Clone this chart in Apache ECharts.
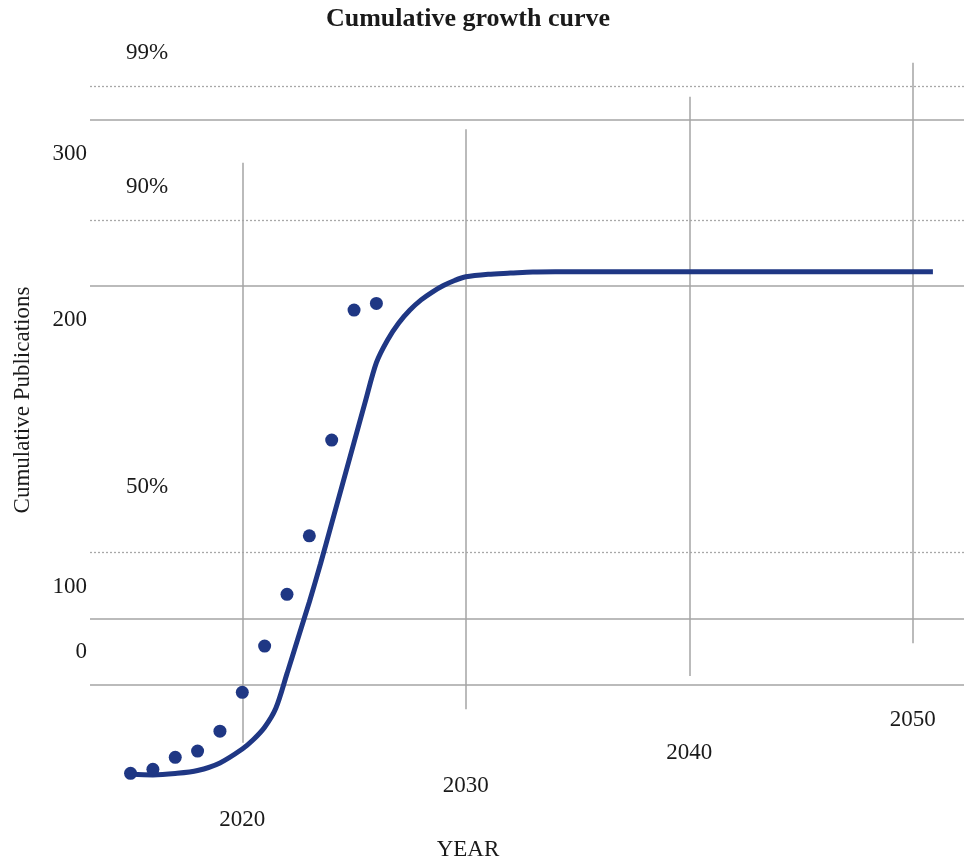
<!DOCTYPE html>
<html lang="en">

<head>
    <meta charset="UTF-8">
    <meta name="viewport" content="width=device-width, initial-scale=1.0">
    <title>Cumulative growth curve</title>
    <style>
        * {
            padding: 0;
            margin: 0;
        }
    </style>
</head>

<body>
    <div id="main" style="width: 964px; height: 862px;"></div>
    <script src="https://cdn.jsdelivr.net/npm/echarts@6/dist/echarts.min.js"></script>
    <script>
        let mychart = echarts.init(document.getElementById('main'))

        // observed publications per year
        const years = [2015, 2016, 2017, 2018, 2019, 2020, 2021, 2022, 2023, 2024, 2025, 2026]
        const publications = [2.9, 4.6, 9.8, 12.5, 21.1, 37.9, 57.9, 80.3, 105.6, 147.0, 203.2, 206.1]

        // fitted growth curve
        const fitYears = [2015, 2016, 2017, 2018, 2019, 2020, 2020.5, 2021, 2021.5, 2022, 2022.5, 2023, 2023.5,
            2024, 2024.5, 2025, 2025.5, 2026, 2026.5, 2027, 2027.5, 2028, 2028.5, 2029, 2029.5, 2030,
            2031, 2032, 2033, 2034, 2040, 2050.9]
        const fitValues = [2.6, 2.2, 2.8, 4.1, 7.4, 13.4, 17.5, 22.8, 31.0, 46.0, 61.5, 77.0, 93.5,
            111.0, 128.5, 146.0, 163.5, 180.5, 190.3, 197.6, 203.2, 207.6, 211.0, 213.8, 216.0, 217.6,
            218.7, 219.2, 219.7, 219.8, 219.8, 219.8]

        // horizontal reference lines
        const solidLevels = [285.4, 213.6, 69.6, 41.1]
        const dottedLevels = [300.1, 242.2, 98.6]
        const percentLabels = ['99%', '90%', '50%']
        const valueLabels = ['300', '200', '100', '0']

        // vertical year lines (they do not line up)
        const yearTicks = [2020, 2030, 2040, 2050]
        const yearLineBottoms = [16.1, 30.6, 45.0, 59.1]
        const yearLineTops = [266.9, 281.4, 295.5, 310.2]

        const navy = '#1f3784'
        const textColor = '#1a1a1a'
        const serif = '"Liberation Serif", "Times New Roman", serif'

        function textEl(text, x, y, align, extra) {
            return Object.assign({
                type: 'text',
                x: x,
                y: y,
                silent: true,
                style: {
                    text: text,
                    fill: textColor,
                    font: '23px ' + serif,
                    textAlign: align,
                    textVerticalAlign: 'middle'
                }
            }, extra || {})
        }

        let options = {
            animation: false,
            grid: {
                left: 90,
                right: 0,
                top: 40,
                bottom: 82
            },
            xAxis: {
                type: 'value',
                min: 2013.186,
                max: 2052.291,
                show: false
            },
            yAxis: {
                type: 'value',
                min: 0,
                max: 320,
                show: false
            },
            series: [{
                name: 'gridlines',
                type: 'line',
                data: [],
                z: 1,
                markLine: {
                    silent: true,
                    z: 1,
                    symbol: ['none', 'none'],
                    label: { show: false },
                    data: [
                        ...solidLevels.map(v => ({
                            yAxis: v,
                            lineStyle: { color: '#a4a4a4', width: 1.5, type: 'solid' }
                        })),
                        ...dottedLevels.map(v => ({
                            yAxis: v,
                            lineStyle: { color: '#a8a8a8', width: 1.3, type: [2, 2] }
                        })),
                        ...yearTicks.map((yr, i) => [{
                            coord: [yr, yearLineBottoms[i]],
                            lineStyle: { color: '#a4a4a4', width: 1.5, type: 'solid' }
                        }, {
                            coord: [yr, yearLineTops[i]]
                        }])
                    ]
                }
            }, {
                name: 'fit',
                type: 'line',
                z: 3,
                smooth: 0.3,
                showSymbol: false,
                lineStyle: { color: navy, width: 5 },
                data: fitYears.map((y, i) => [y, fitValues[i]])
            }, {
                name: 'publications',
                type: 'scatter',
                z: 4,
                symbolSize: 13,
                itemStyle: { color: navy, opacity: 1 },
                data: years.map((y, i) => [y, publications[i]])
            }]
        }

        mychart.setOption(options)

        // labels placed where the original put them
        const valueLabelY = [154, 320, 587, 652]
        const percentLabelY = [53, 187, 487]
        const graphics = [
            {
                type: 'text',
                x: 468,
                y: 19,
                silent: true,
                style: {
                    text: 'Cumulative growth curve',
                    fill: textColor,
                    font: 'bold 26px ' + serif,
                    textAlign: 'center',
                    textVerticalAlign: 'middle'
                }
            },
            textEl('YEAR', 468, 850, 'center'),
            textEl('Cumulative Publications', 23, 400, 'center', { rotation: Math.PI / 2 })
        ]
        valueLabels.forEach((t, i) => graphics.push(textEl(t, 87, valueLabelY[i], 'right')))
        percentLabels.forEach((t, i) => graphics.push(textEl(t, 126, percentLabelY[i], 'left')))
        yearTicks.forEach((yr, i) => {
            const p = mychart.convertToPixel({ gridIndex: 0 }, [yr, yearLineBottoms[i]])
            graphics.push(textEl(String(yr), p[0], p[1] + 77, 'center'))
        })

        mychart.setOption({ graphic: graphics })
    </script>
</body>

</html>
